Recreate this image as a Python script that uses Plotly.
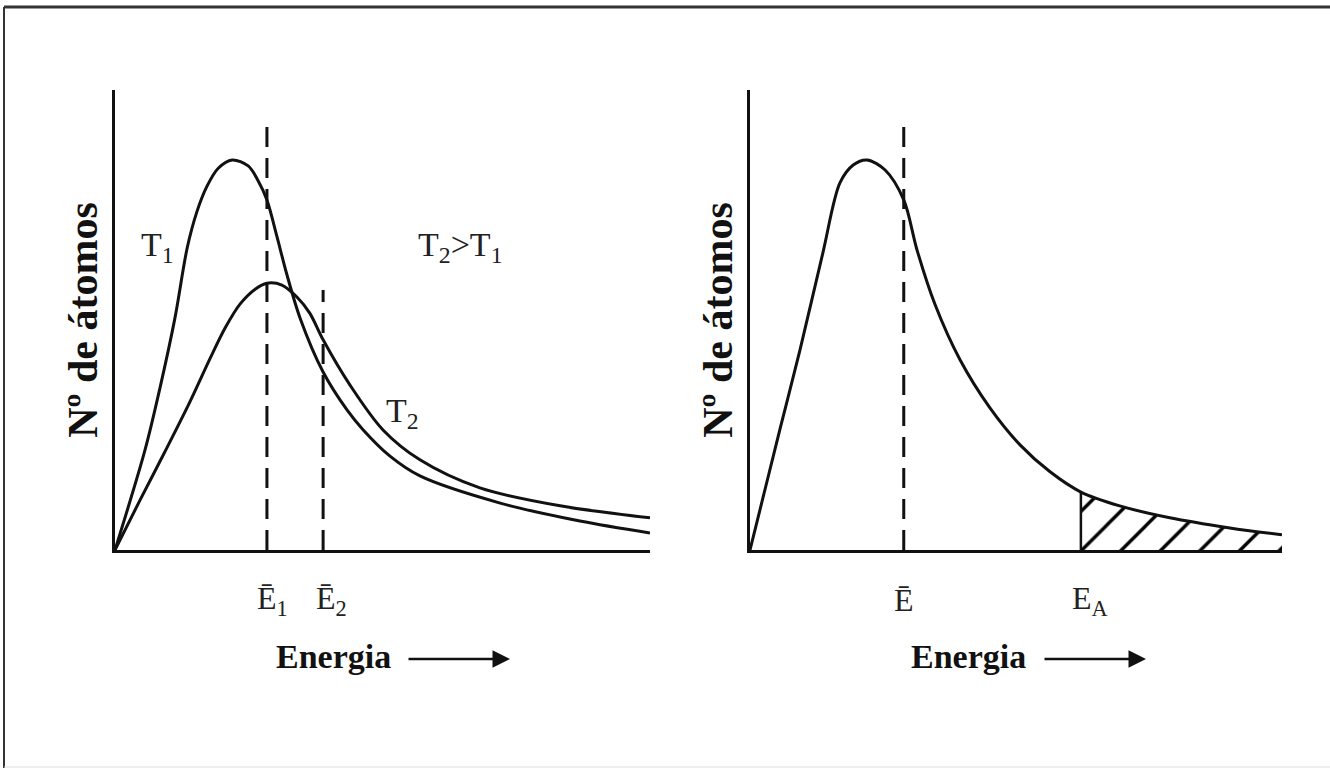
import plotly.graph_objects as go

# ---------------- data ----------------
# left panel: energy (0-100) vs number of atoms (0-100)
t1_x = [0, 5.6, 8.4, 11.2, 13.5, 15.3, 17.2, 19.3, 21.9, 24.9, 26.7, 28.4, 30.3, 32.1, 34.6, 38.9, 43.4, 46.4,
        51.4, 57.0, 72.0, 86.9, 100]
t1_y = [0, 21.7, 35.2, 50.4, 65.7, 73.5, 79.1, 83.0, 84.8, 83.5, 80.4, 76.1, 68.0, 60.0, 50.4, 38.7, 30.4, 26.1,
        20.4, 16.1, 10.2, 6.3, 3.7]

t2_x = [0, 4.7, 9.3, 14.0, 17.8, 20.6, 23.4, 26.2, 28.4, 31.2, 34.0, 36.4, 38.9, 43.9, 50.1, 57.0, 68.2, 83.2, 100]
t2_y = [0, 10.9, 21.3, 32.2, 41.7, 48.3, 53.5, 56.7, 58.0, 57.6, 55.0, 51.5, 45.7, 35.9, 26.1, 19.6, 13.5, 9.6, 7.0]

e1_x, e1_top = 28.4, 93.9
e2_x, e2_top = 38.9, 56.5

# right panel
r_x = [0, 5.6, 9.4, 13.7, 16.9, 19.4, 22.0, 25.4, 28.9, 31.4, 34.8, 39.5, 45.1, 50.8, 56.4, 62.2, 69.5, 78.9, 90.2, 100]
r_y = [0, 26.1, 43.5, 64.6, 79.8, 83.7, 84.8, 82.6, 76.1, 65.2, 53.3, 41.3, 30.9, 22.8, 17.0, 12.6, 9.6, 7.0, 4.8, 3.3]

e_mean_x, e_mean_top = 28.9, 93.5
ea_x = 62.2

labels_left = ["Ē<sub>1</sub>", "Ē<sub>2</sub>"]
labels_right = ["Ē", "E<sub>A</sub>"]

# ---------------- figure ----------------
W, H = 1330, 768
FONT = "Liberation Serif"
INK = "#111111"

fig = go.Figure()

curve = dict(color=INK, width=3, shape="spline", smoothing=0.9)
dash = dict(color=INK, width=3, dash="20px,11px")

fig.add_trace(go.Scatter(x=t1_x, y=t1_y, mode="lines", line=curve, xaxis="x", yaxis="y"))
fig.add_trace(go.Scatter(x=t2_x, y=t2_y, mode="lines", line=curve, xaxis="x", yaxis="y"))
fig.add_trace(go.Scatter(x=[e1_x, e1_x], y=[0, e1_top], mode="lines", line=dash, xaxis="x", yaxis="y"))
fig.add_trace(go.Scatter(x=[e2_x, e2_x], y=[0, e2_top], mode="lines", line=dash, xaxis="x", yaxis="y"))

# right panel: hatched tail beyond EA
idx = [i for i, v in enumerate(r_x) if v >= ea_x]
fig.add_trace(go.Scatter(x=[r_x[i] for i in idx], y=[r_y[i] for i in idx], mode="lines",
                         line=dict(width=0, shape="spline", smoothing=0.9), fill="tozeroy",
                         fillcolor="white",
                         fillpattern=dict(shape="/", size=28, solidity=0.12, fgcolor="#000000",
                                          fgopacity=1, bgcolor="white"),
                         xaxis="x2", yaxis="y2"))
fig.add_trace(go.Scatter(x=[ea_x, ea_x], y=[0, r_y[idx[0]]], mode="lines", line=dict(color=INK, width=2.5),
                         xaxis="x2", yaxis="y2"))
fig.add_trace(go.Scatter(x=r_x, y=r_y, mode="lines", line=curve, xaxis="x2", yaxis="y2"))
fig.add_trace(go.Scatter(x=[e_mean_x, e_mean_x], y=[0, e_mean_top], mode="lines", line=dash,
                         xaxis="x2", yaxis="y2"))

ax_common = dict(range=[0, 100], showline=True, linecolor=INK, linewidth=3, showgrid=False,
                 zeroline=False, showticklabels=False, ticks="", fixedrange=True, automargin=False)
ytitle = dict(text="Nº de átomos", standoff=2,
              font=dict(family=FONT, size=42, color="#111111", weight="bold"))
ydom = [1 - 550 / H, 1 - 90 / H]
fig.update_layout(
    width=W, height=H, margin=dict(l=0, r=0, t=0, b=0),
    paper_bgcolor="white", plot_bgcolor="white", showlegend=False,
    xaxis=dict(domain=[115 / W, 650 / W], anchor="y", **ax_common),
    yaxis=dict(domain=ydom, anchor="x", title=ytitle, **ax_common),
    xaxis2=dict(domain=[750 / W, 1282 / W], anchor="y2", **ax_common),
    yaxis2=dict(domain=ydom, anchor="x2", title=ytitle, **ax_common),
)

def px(x):
    return x / W

def py(y):
    return 1 - y / H

ann = []
lab_font = dict(family=FONT, size=32, color="#222222")
t_font = dict(family=FONT, size=34, color="#222222")
bold_font = dict(family=FONT, size=34, color="#111111", weight="bold")
C = dict(xanchor="center", yanchor="middle", showarrow=False)

# tick-like labels under the axes
ann.append(dict(x=e1_x, y=py(600), xref="x", yref="paper", text=labels_left[0], font=lab_font, xshift=6, **C))
ann.append(dict(x=e2_x, y=py(600), xref="x", yref="paper", text=labels_left[1], font=lab_font, xshift=8, **C))
ann.append(dict(x=e_mean_x, y=py(600), xref="x2", yref="paper", text=labels_right[0], font=lab_font, **C))
ann.append(dict(x=ea_x, y=py(600), xref="x2", yref="paper", text=labels_right[1], font=lab_font, xshift=9, **C))

# curve labels
ann.append(dict(x=px(157), y=py(247), xref="paper", yref="paper", text="T<sub>1</sub>", font=t_font, **C))
ann.append(dict(x=px(460), y=py(247), xref="paper", yref="paper", text="T<sub>2</sub>>T<sub>1</sub>",
                font=t_font, **C))
ann.append(dict(x=px(402), y=py(413), xref="paper", yref="paper", text="T<sub>2</sub>", font=t_font, **C))

# x-axis titles with arrows
for cx in (333, 968):
    ann.append(dict(x=px(cx), y=py(656), xref="paper", yref="paper", text="Energia", font=bold_font, **C))
for x0, x1 in ((407, 510), (1043, 1146)):
    ann.append(dict(x=px(x1), y=py(659), xref="paper", yref="paper", text="", showarrow=True,
                    ax=x0 - x1, ay=0, arrowhead=2, arrowsize=1.4, arrowwidth=2.5, arrowcolor=INK))

fig.update_layout(annotations=ann)

# outer frame
fig.add_shape(type="line", xref="paper", yref="paper", x0=px(4), x1=1, y0=py(7), y1=py(7),
              line=dict(color="#333333", width=3))
fig.add_shape(type="line", xref="paper", yref="paper", x0=px(4), x1=px(4), y0=0, y1=py(7),
              line=dict(color="#333333", width=2))
fig.add_shape(type="line", xref="paper", yref="paper", x0=px(4), x1=1, y0=py(767), y1=py(767),
              line=dict(color="#dddddd", width=1))

fig.write_html("out.html", config={"displayModeBar": False},
               post_script="document.body.style.margin='0';")
